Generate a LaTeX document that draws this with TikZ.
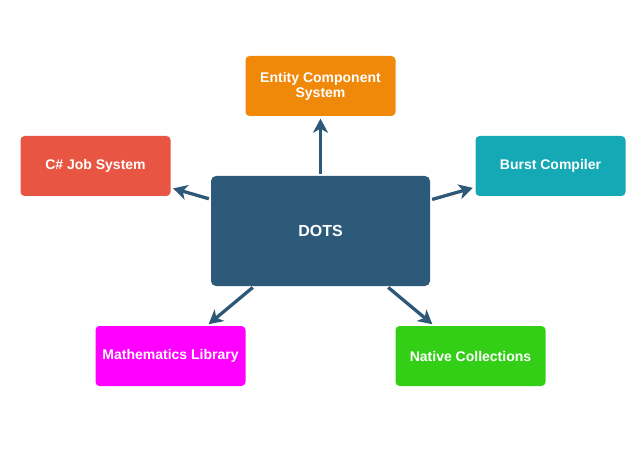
\documentclass[tikz,border=0pt]{standalone}
\usepackage{fontspec}
\setmainfont{Liberation Sans}
\usepackage{tikz}
\usetikzlibrary{shapes,arrows.meta,positioning}
\definecolor{dotsblue}{HTML}{2E5A7A}
\definecolor{arrowblue}{HTML}{2D5878}
\definecolor{ecsorange}{HTML}{F0880A}
\definecolor{jobred}{HTML}{E85643}
\definecolor{burstteal}{HTML}{14A9B5}
\definecolor{mathpink}{HTML}{FF00FF}
\definecolor{nativegreen}{HTML}{33CF16}
\tikzset{core/.style={rectangle, fill=dotsblue, text=white, font=\fontsize{16}{18}\selectfont\bfseries,
 minimum width=219pt, minimum height=110pt, rounded corners=5pt}}
\tikzset{module/.style={rectangle, text=white, font=\fontsize{14}{15}\selectfont\bfseries, align=center,
 minimum width=150pt, minimum height=60pt, inner sep=0pt, rounded corners=4pt, yshift=-1pt}}
\tikzset{line/.style={draw=arrowblue, line width=3.3pt, -{Stealth[length=14pt,width=15pt,inset=4pt]},
 shorten <=2pt, shorten >=2.5pt}}

\begin{document}
\begin{tikzpicture}[x=1pt,y=1pt]
        \useasboundingbox (0,0) rectangle (644,458);
        \node[core] (dots) at (320.5,227) {DOTS};
        \node[module, fill=ecsorange]   (ecs)    at ([shift={(0,146)}]dots)     {Entity Component\\System};
        \node[module, fill=jobred]      (job)    at ([shift={(-225,66)}]dots)   {C\# Job System};
        \node[module, fill=burstteal]   (burst)  at ([shift={(230,66)}]dots)    {Burst Compiler};
        \node[module, fill=mathpink]    (math)   at ([shift={(-150,-124)}]dots) {Mathematics Library};
        \node[module, fill=nativegreen] (native) at ([shift={(150,-124)}]dots)  {Native Collections};

        \path[line] (dots) --          (ecs);
        \path[line] (dots) --          (job);
        \path[line] (dots) --          (burst);
        \path[line] (dots) --          (math);
        \path[line] (dots) --          (native);
      \end{tikzpicture}
\end{document}
